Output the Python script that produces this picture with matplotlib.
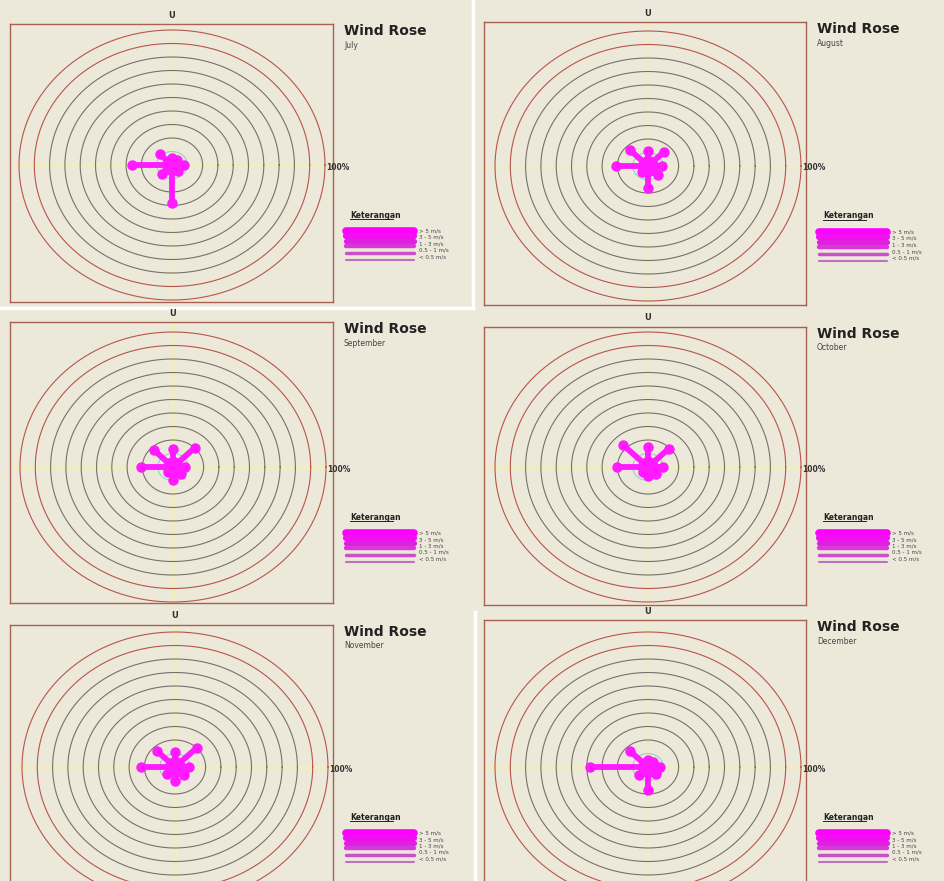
import numpy as np
import matplotlib
matplotlib.use("Agg")
from matplotlib import pyplot as plt
from matplotlib.lines import Line2D

directions = ["N", "NE", "E", "SE", "S", "SW", "W", "NW"]
angles = [90, 45, 0, -45, -90, -135, 180, 135]

july = [5, 5, 8, 6, 28, 9, 26, 11]
august = [11, 15, 9, 9, 16, 6, 21, 17]
september = [13, 20, 8, 7, 10, 5, 21, 18]
october = [15, 19, 10, 7, 7, 5, 20, 23]
november = [11, 20, 9, 8, 10, 7, 22, 17]
december = [5, 5, 8, 7, 17, 8, 38, 17]

months = ["July", "August", "September", "October", "November", "December"]
month_data = [july, august, september, october, november, december]

rings = [10, 20, 30, 40, 50, 60, 70, 80, 90, 100]
speed_classes = ["> 5 m/s", "3 - 5 m/s", "1 - 3 m/s", "0.5 - 1 m/s", "< 0.5 m/s"]

W, H = 945, 881
BG = "#ece9db"
MAG = "#ff1aff"

# panel boxes in pixels: x0, x1, y0, y1, centre x, centre y
panels = [
    (10, 333, 24, 302, 172, 165),
    (484, 806, 22, 305, 648, 166),
    (10, 333, 322, 603, 173, 467),
    (484, 806, 327, 605, 648, 467),
    (10, 333, 625, 905, 175, 767),
    (484, 806, 620, 905, 648, 767),
]
SX, SY = 1.53, 1.35  # pixels per percent


def fx(x):
    return x / W


def fy(y):
    return 1 - y / H


fig = plt.figure(figsize=(W / 100, H / 100), dpi=100)
fig.patch.set_facecolor(BG)

# white seams of the collage
fig.add_artist(Line2D([fx(473), fx(473)], [fy(0), fy(308)], color="white", lw=2.5))
fig.add_artist(Line2D([fx(0), fx(473)], [fy(308), fy(308)], color="white", lw=2.5))
fig.add_artist(Line2D([fx(475), fx(475)], [fy(612), fy(881)], color="white", lw=2.5))

for (x0, x1, y0, y1, cx, cy), name, vals in zip(panels, months, month_data):
    ax = fig.add_axes([fx(x0), fy(y1), (x1 - x0) / W, (y1 - y0) / H])
    ax.set_facecolor(BG)
    ax.set_xlim((x0 - cx) / SX, (x1 - cx) / SX)
    ax.set_ylim((cy - y1) / SY, (cy - y0) / SY)
    ax.set_xticks([])
    ax.set_yticks([])
    for s in ax.spines.values():
        s.set_color("#a8604f")
        s.set_linewidth(1)

    # crosshair
    ax.axhline(0, color="#f2edc0", lw=2, zorder=1)
    ax.axvline(0, color="#f2edc0", lw=2, zorder=1)

    t = np.linspace(0, 2 * np.pi, 300)
    for r in rings:
        if r >= 90:
            c = "#b8554a"
        elif r == 10:
            c = "#8fd3c4"
        else:
            c = "#77716a"
        ax.plot(r * np.cos(t), r * np.sin(t), color=c, lw=0.8, zorder=2)

    # petals
    for a, v in zip(angles, vals):
        ex = v * np.cos(np.radians(a))
        ey = v * np.sin(np.radians(a))
        ax.plot([0, ex], [0, ey], color=MAG, lw=4.2, solid_capstyle="round", zorder=4)
        ax.plot(ex, ey, "o", color=MAG, ms=6.5, zorder=4)
    ax.plot(0, 0, "o", color=MAG, ms=14, zorder=5)

    # labels
    fig.text(fx(cx), fy(y0 - 9), "U", ha="center", va="center", fontsize=6,
             color="#333333", fontweight="bold")
    fig.text(fx(cx + 100 * SX + 1), fy(cy + 2), "100%", ha="left", va="center",
             fontsize=5.5, color="#333333", fontweight="bold")
    fig.text(fx(x1 + 11), fy(y0 + 7), "Wind Rose", ha="left", va="center",
             fontsize=10, fontweight="heavy", color="#222222")
    fig.text(fx(x1 + 11), fy(y0 + 21), name, ha="left", va="center",
             fontsize=5.5, color="#444444")
    fig.text(fx(x1 + 17), fy(cy + 50), "Keterangan", ha="left", va="center",
             fontsize=5.5, fontweight="bold", color="#222222")
    fig.add_artist(Line2D([fx(x1 + 17), fx(x1 + 60)], [fy(cy + 54), fy(cy + 54)],
                          color="#222222", lw=0.7))

    # speed class legend bars
    bar_y = [66, 71, 76, 81, 88, 95]
    bar_w = [5.5, 4.5, 3.8, 3.2, 2.5, 1.5]
    bar_c = ["#ff00ff", "#f010f0", "#e020e0", "#d838d8", "#c850c8", "#c070c0"]
    for by, bw, bc in zip(bar_y, bar_w, bar_c):
        fig.add_artist(Line2D([fx(x1 + 13), fx(x1 + 81)], [fy(cy + by), fy(cy + by)],
                              color=bc, lw=bw, solid_capstyle="round"))
    for i, lab in enumerate(speed_classes):
        fig.text(fx(x1 + 86), fy(cy + 66 + i * 6.5), lab, ha="left", va="center",
                 fontsize=4, color="#444444")

fig.savefig("out.png", dpi=100, facecolor=BG)
